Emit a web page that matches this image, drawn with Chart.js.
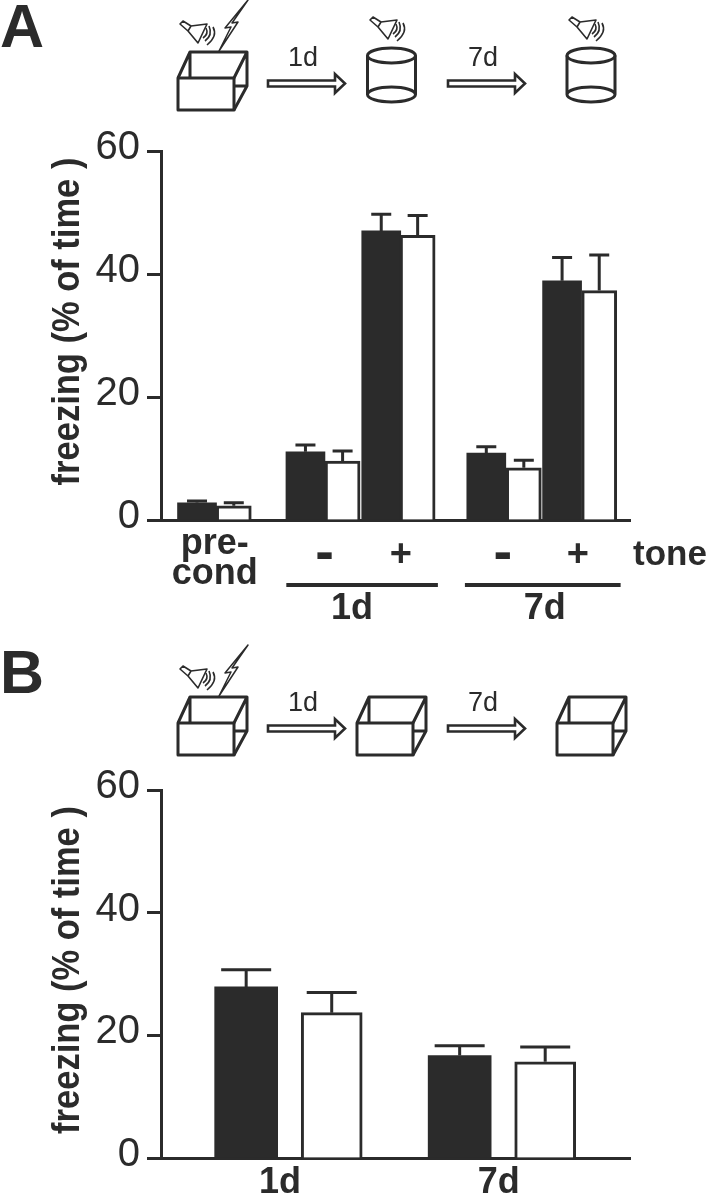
<!DOCTYPE html>
<html><head><meta charset="utf-8">
<script src="https://cdn.jsdelivr.net/npm/chart.js@4/dist/chart.umd.min.js"></script>
<style>
html,body{margin:0;padding:0;background:#fff}
#page{position:relative;width:709px;height:1199px;overflow:hidden;background:#fff}
canvas{position:absolute;left:0}
svg{position:absolute;left:0;top:0}
</style></head><body>
<div id="page">
<canvas id="chartA" width="709" height="640" style="top:0"></canvas>
<canvas id="chartB" width="709" height="559" style="top:640px"></canvas>
<svg id="art" width="709" height="1199" viewBox="0 0 709 1199"></svg>
</div>
<script>
// ---------- Data: panel A ----------
const aBlack = [2.8, 11.1, 47.0, 10.9, 38.9];
const aWhite = [2.3, 9.6, 46.3, 8.5, 37.3];
const aBlackSem = [0.3, 1.1, 2.7, 1.0, 3.8];
const aWhiteSem = [0.5, 1.6, 3.2, 1.2, 5.8];
const aBlackSlots = [0.96, 3.85, 5.87, 8.67, 10.69];
const aWhiteSlots = [1.94, 4.84, 6.84, 9.67, 11.68];
const aTickSlots = [1.43, 4.36, 6.39, 9.11, 11.11];
const aTickLabels = [['pre-', 'cond'], '-', '+', '-', '+'];
// ---------- Data: panel B ----------
const bBlack = [27.9, 16.7];
const bWhite = [23.7, 15.7];
const bBlackSem = [2.8, 1.6];
const bWhiteSem = [3.3, 2.4];
const bBlackSlots = [2.27, 7.96];
const bWhiteSlots = [4.55, 10.24];
const bTickSlots = [3.17, 9.0];
const bTickLabels = ['1d', '7d'];
const yTicks = [0, 20, 40, 60];
const yTitle = 'freezing (% of time )';

const INK = '#2b2b2b';
const FAM = '"Liberation Sans", Arial, sans-serif';

function errorBars(capW){
  return {id:'errorBars', afterDatasetsDraw(chart){
    const c = chart.ctx, x = chart.scales.x, y = chart.scales.y;
    c.save(); c.strokeStyle = INK; c.lineWidth = 3;
    chart.data.datasets.forEach(ds => ds.data.forEach(p => {
      const px = x.getPixelForValue(p.x), y0 = y.getPixelForValue(p.y), y1 = y.getPixelForValue(p.y + p.sem);
      c.beginPath(); c.moveTo(px, y0); c.lineTo(px, y1);
      c.moveTo(px - capW/2, y1); c.lineTo(px + capW/2, y1); c.stroke();
    }));
    c.restore();
  }};
}
// Nudges the y-axis text: digits sit a little above their ticks; the title is taller and off-centre.
function axisText(titleShift){
  return {id:'axisText', beforeDraw(chart){
    const s = chart.scales.y, c = chart.ctx;
    if (s._nudged) return; s._nudged = true;
    const labels = s.drawLabels.bind(s), title = s.drawTitle.bind(s);
    s.drawLabels = a => { c.save(); c.translate(0, -3); labels(a); c.restore(); };
    s.drawTitle = () => { c.save(); c.translate(80, titleShift); c.scale(1.14, 1); c.translate(-80, 0); title(); c.restore(); };
  }};
}
const groupNotes = {id:'groupNotes', afterDraw(chart){
  const c = chart.ctx, x = chart.scales.x;
  c.save(); c.fillStyle = INK; c.strokeStyle = INK; c.lineWidth = 4;
  [[3.34, 7.38, '1d', 5.09],[8.1, 12.25, '7d', 10.23]].forEach(([a, b, t, m]) => {
    c.beginPath(); c.moveTo(x.getPixelForValue(a), 585); c.lineTo(x.getPixelForValue(b), 585); c.stroke();
    c.font = 'bold 36px ' + FAM; c.textAlign = 'center'; c.textBaseline = 'middle';
    c.fillText(t, x.getPixelForValue(m), 609);
  });
  c.font = 'bold 35px ' + FAM; c.textAlign = 'left'; c.textBaseline = 'middle';
  c.fillText('tone', 633, 555);
  c.restore();
}};

function makeChart(id, cfg){
  const toData = (vals, sems, slots) => vals.map((v, i) => ({x: slots[i], y: v, sem: sems[i]}));
  return new Chart(document.getElementById(id), {
    type: 'bar',
    data: {datasets: [
      {label: 'white', data: toData(cfg.white, cfg.whiteSem, cfg.whiteSlots), backgroundColor: '#fff', borderColor: INK, borderWidth: 3, barThickness: cfg.whiteW, borderSkipped: 'bottom'},
      {label: 'black', data: toData(cfg.black, cfg.blackSem, cfg.blackSlots), backgroundColor: INK, borderColor: INK, borderWidth: 0, barThickness: cfg.blackW}
    ]},
    plugins: cfg.plugins,
    options: {
      responsive: false, animation: false, events: [],
      layout: {padding: {top: cfg.top, right: 79, left: 0, bottom: 0}},
      plugins: {legend: {display: false}, tooltip: {enabled: false}},
      datasets: {bar: {grouped: false}},
      scales: {
        x: {
          type: 'linear', min: 0, max: 12.5, offset: false,
          grid: {display: false, drawTicks: false},
          border: {display: true, color: INK, width: 3},
          afterFit(s){ s.height = cfg.xH; },
          afterBuildTicks(s){ s.ticks = cfg.tickSlots.map(v => ({value: v})); },
          ticks: {
            autoSkip: false, maxRotation: 0, padding: cfg.xPad, color: INK,
            callback: (v, i) => cfg.tickLabels[i],
            font: c => cfg.tickFont(c.index)
          }
        },
        y: {
          min: 0, max: 60,
          afterFit(s){ s.width = 161; },
          afterBuildTicks(s){ s.ticks = yTicks.map(v => ({value: v})); },
          grid: {drawOnChartArea: false, drawTicks: true, tickLength: 14, tickWidth: 3, tickColor: INK},
          border: {display: true, color: INK, width: 3},
          ticks: {color: INK, padding: 7, font: {family: FAM, size: 40}},
          title: {display: true, text: yTitle, color: INK, padding: {top: 49, bottom: 0}, font: {family: FAM, size: 34.5, weight: 'bold'}}
        }
      }
    }
  });
}

makeChart('chartA', {
  black: aBlack, white: aWhite, blackSem: aBlackSem, whiteSem: aWhiteSem,
  blackSlots: aBlackSlots, whiteSlots: aWhiteSlots, blackW: 39, whiteW: 35,
  tickSlots: aTickSlots, tickLabels: aTickLabels,
  tickFont: i => i === 0 ? {family: FAM, size: 36, weight: 'bold', lineHeight: 0.84}
    : aTickLabels[i] === '-' ? {family: FAM, size: 56, weight: 'bold', lineHeight: 0.92}
    : {family: FAM, size: 38, weight: 'bold', lineHeight: 1.42},
  top: 151, xH: 120, xPad: 9, plugins: [axisText(-14), errorBars(20), groupNotes]
});
makeChart('chartB', {
  black: bBlack, white: bWhite, blackSem: bBlackSem, whiteSem: bWhiteSem,
  blackSlots: bBlackSlots, whiteSlots: bWhiteSlots, blackW: 63, whiteW: 61,
  tickSlots: bTickSlots, tickLabels: bTickLabels,
  tickFont: () => ({family: FAM, size: 36, weight: 'bold', lineHeight: 1}),
  top: 150, xH: 41, xPad: 7, plugins: [axisText(-4), errorBars(50)]
});

// ---------- Schematic drawings above each panel ----------
const box = (dx, dy) => `<g transform="translate(${dx},${dy})" fill="none" stroke="${INK}" stroke-width="3" stroke-linejoin="round">
<rect x="178" y="78" width="56" height="32"/><path d="M178 78L190 52H247V86L234 110M234 78L247 52M190 52V78M234 86H247"/></g>`;
const cyl = dx => `<g fill="none" stroke="${INK}" stroke-width="3"><ellipse cx="${dx}" cy="55.5" rx="24" ry="7.5"/><path d="M${dx-24} 55.5V94.5A24 7.5 0 0 0 ${dx+24} 94.5V55.5M${dx-24} 94.5A24 7.5 0 0 1 ${dx+24} 94.5"/></g>`;
const speaker = (dx, dy) => `<g transform="translate(${dx},${dy})" fill="none" stroke="${INK}" stroke-width="1.6" stroke-linejoin="round">
<path d="M180 24L183 21L191 26L188 31ZM191 26L207 24L198 43L188 31Z"/><path d="M203 38Q209 34 206 28M205 41Q213 35 209 26M207 45Q218 36 213 27"/></g>`;
const bolt = (dy) => `<path transform="translate(0,${dy})" fill="none" stroke="${INK}" stroke-width="1.5" stroke-linejoin="round" d="M248 0L232 23L238 22L219 51L231 27L225 28Z"/>`;
const arrow = (dx, dy) => `<path transform="translate(${dx},${dy})" fill="#fff" stroke="${INK}" stroke-width="2.6" d="M268 80.5H335V74L345 83.5L335 93V86.5H268Z"/>`;
const lab = (t, x, y) => `<text x="${x}" y="${y}" text-anchor="middle" font-family='${FAM}' font-size="27" fill="${INK}">${t}</text>`;
const panel = (t, x, y) => `<text x="${x}" y="${y}" font-family='${FAM}' font-weight="700" font-size="61" fill="${INK}">${t}</text>`;
document.getElementById('art').innerHTML =
  panel('A', 0, 47) + panel('B', 0, 693) +
  box(0, 0) + speaker(0, 0) + bolt(0) + arrow(0, 0) + arrow(180, 0) + lab('1d', 303, 66) + lab('7d', 483, 66) +
  cyl(391.5) + cyl(591) + speaker(190, -4) + speaker(389, -4) +
  box(0, 645) + speaker(0, 645) + bolt(645) + arrow(0, 645) + arrow(180, 645) + lab('1d', 303, 711) + lab('7d', 483, 711) +
  box(179, 645) + box(379, 645);
</script>
</body></html>
